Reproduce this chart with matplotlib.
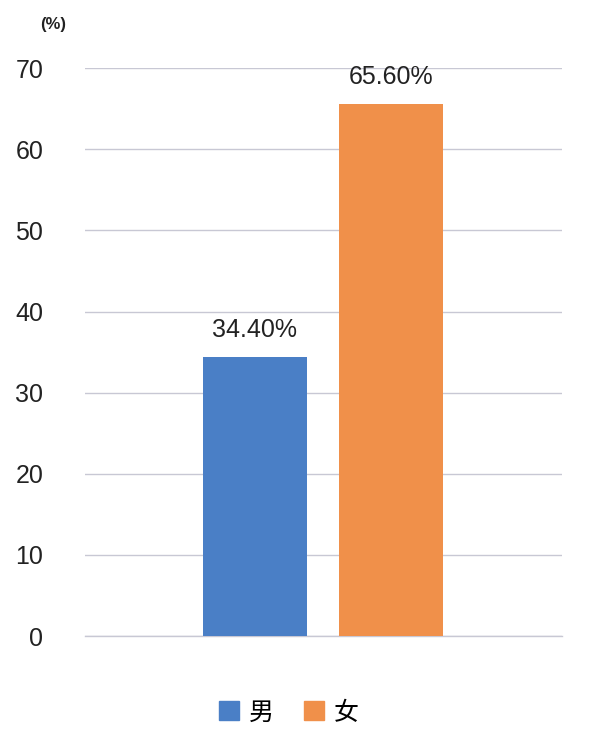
import matplotlib
matplotlib.use("Agg")
import matplotlib.pyplot as plt
from matplotlib.patches import Patch

plt.rcParams['font.family'] = ['Noto Sans CJK SC', 'DejaVu Sans']

categories = ["男", "女"]
values = [34.40, 65.60]
colors = ["#4a7fc6", "#f0904a"]
yticks = [0, 10, 20, 30, 40, 50, 60, 70]

fig = plt.figure(figsize=(5.9, 7.5), dpi=100, facecolor="white")
ax = fig.add_axes([0.144, 0.152, 0.809, 0.757])
x = [0, 1]
ax.bar(x, values, width=0.77, color=colors, zorder=3)
for xi, v in zip(x, values):
    ax.text(xi, v + 1.8, f"{v:.2f}%", ha="center", va="bottom", fontsize=18, color="#222222",
            family="Liberation Sans")
ax.set_xlim(-1.25, 2.26)
ax.set_ylim(0, 70)
ax.set_yticks(yticks)
ax.set_yticklabels([str(t) for t in yticks], fontsize=18, color="#222222", family="Liberation Sans")
ax.set_xticks([])
ax.grid(axis="y", color="#c8c8d4", lw=1, zorder=0)
ax.axhline(0, color="#c8c8d4", lw=1, zorder=0, clip_on=False)
for s in ax.spines.values():
    s.set_visible(False)
ax.tick_params(axis="y", length=0, pad=30)
fig.text(0.068, 0.967, "(%)", fontsize=12, color="#222222", ha="left", va="center",
         family="Liberation Sans", weight="bold")
handles = [Patch(color=c, label=l) for c, l in zip(colors, categories)]
fig.legend(handles=handles, loc="center", bbox_to_anchor=(0.49, 0.05), ncol=2, frameon=False,
           fontsize=18, handlelength=0.8, handleheight=0.8, handletextpad=0.4, columnspacing=1.2)
fig.savefig("out.png", dpi=100)
